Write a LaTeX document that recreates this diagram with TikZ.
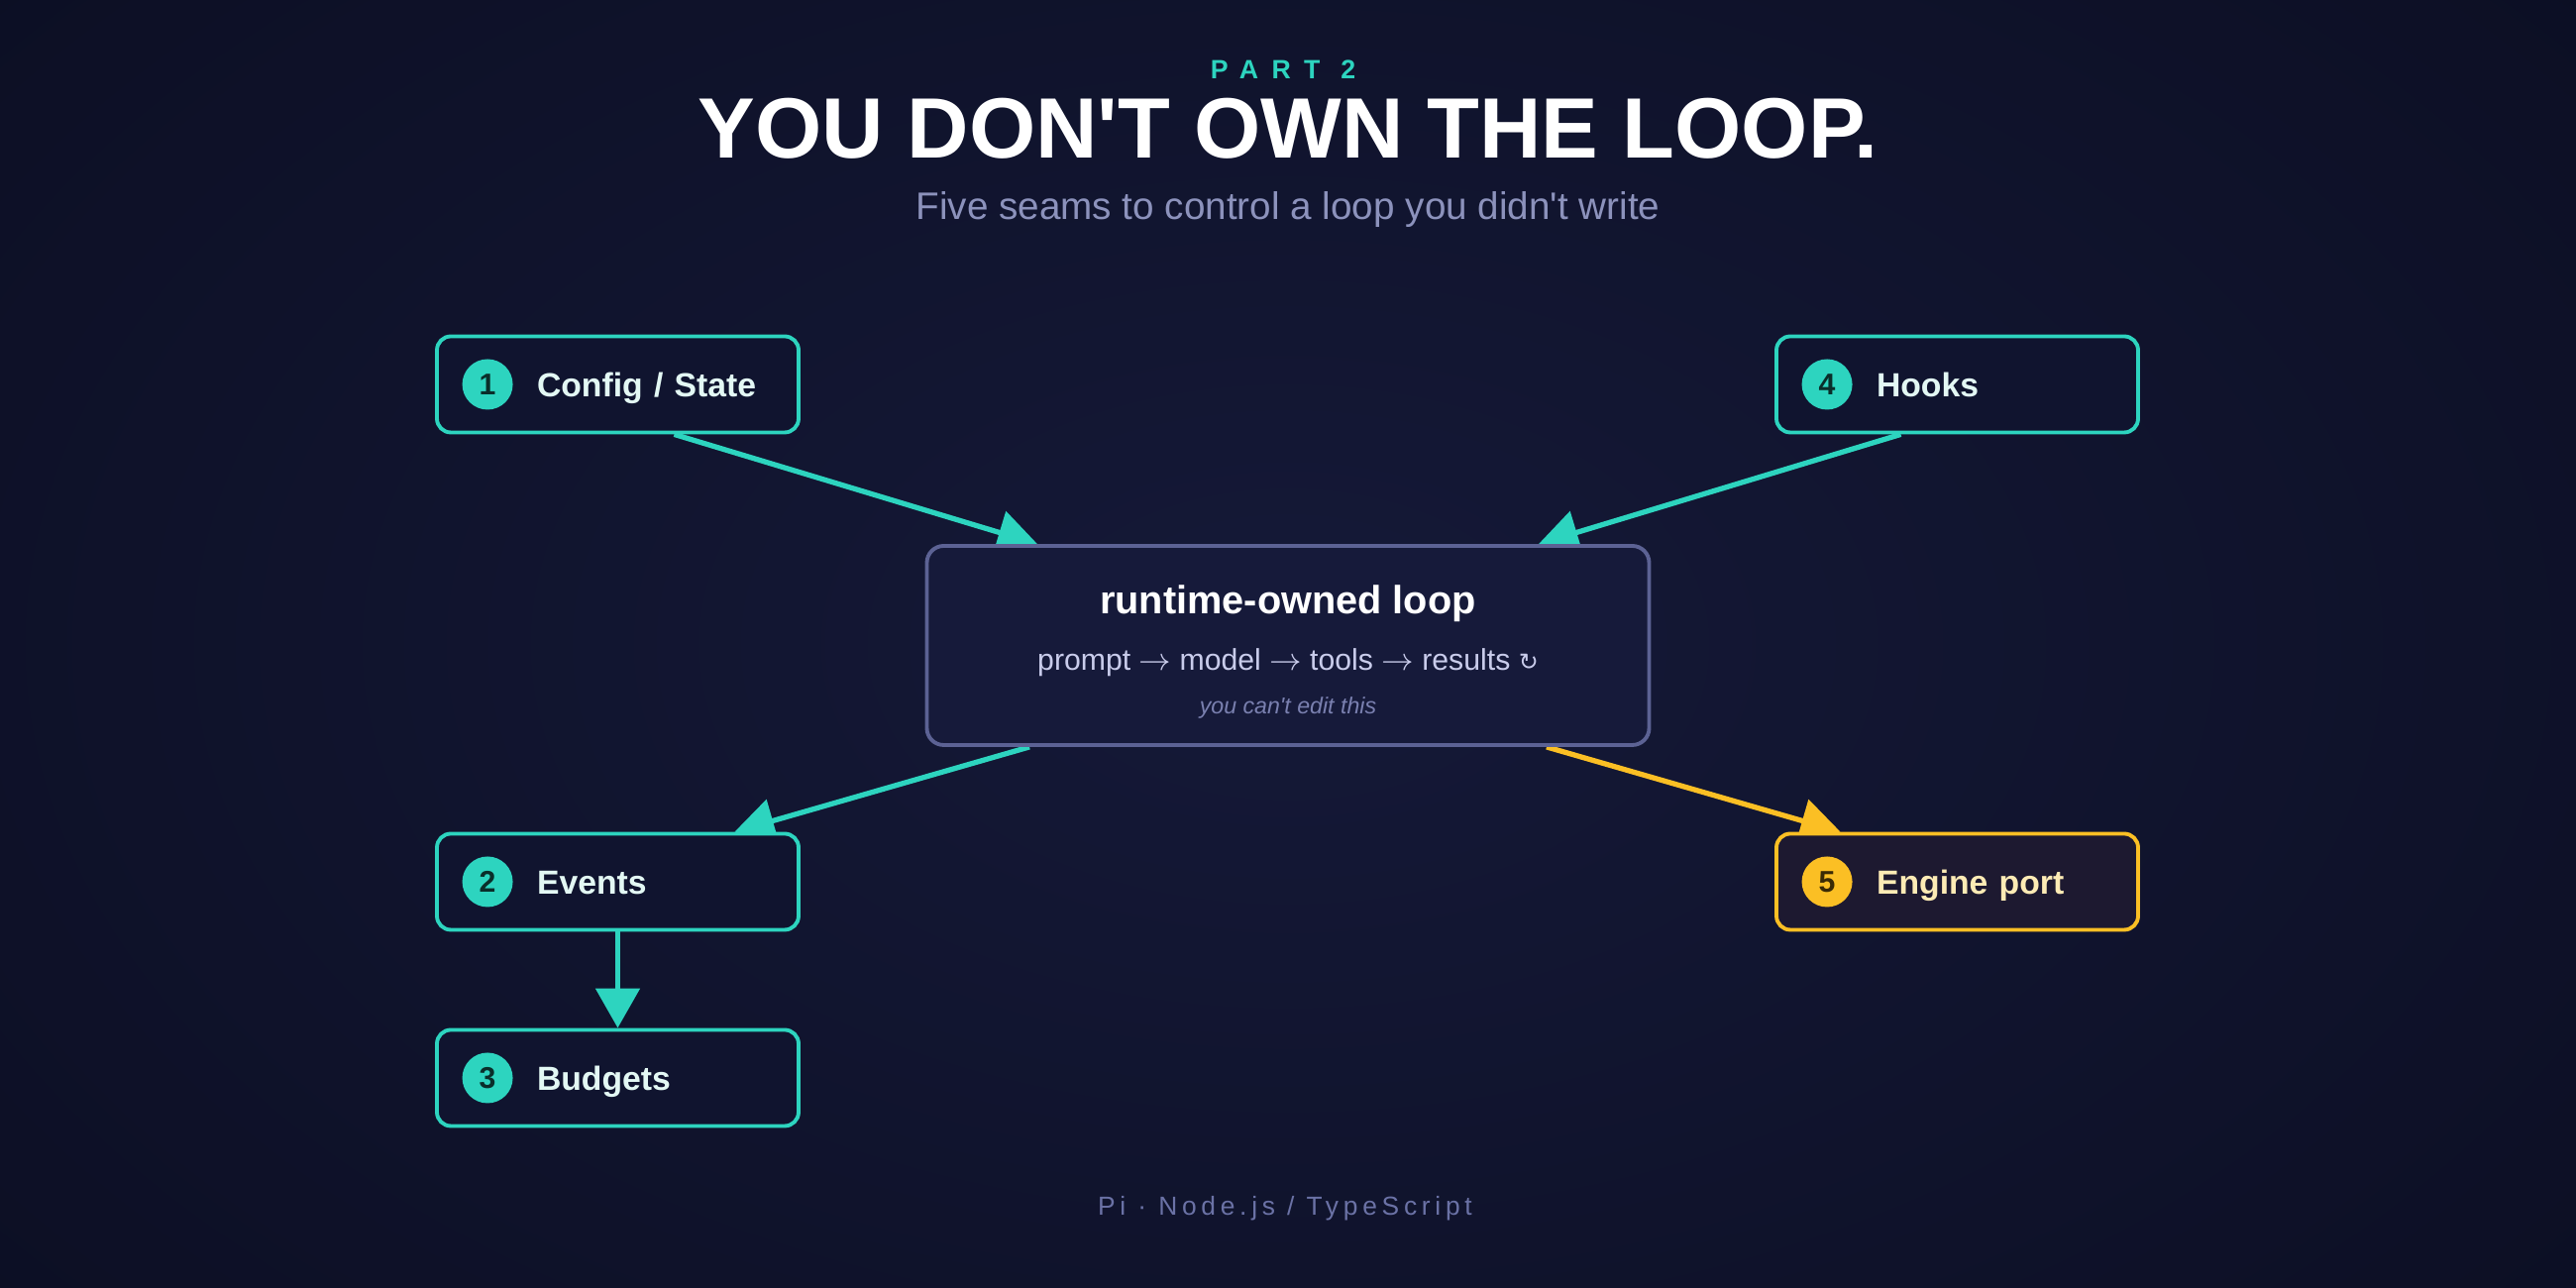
\documentclass[tikz,border=0pt]{standalone}
\usepackage{fontspec}
\setmainfont{Liberation Sans}
\newfontfamily\symfont{DejaVu Sans}
\usetikzlibrary{arrows.meta,positioning,calc,backgrounds}
\definecolor{night}{HTML}{0C0F24}
\definecolor{dusk}{HTML}{151938}
\definecolor{teal}{HTML}{2DD4BF}
\definecolor{amber}{HTML}{FBBF24}
\definecolor{seamfill}{HTML}{10142F}
\definecolor{emberfill}{HTML}{1D1930}
\definecolor{loopfill}{HTML}{161A3A}
\definecolor{slate}{HTML}{5C6294}
\definecolor{mint}{HTML}{E3F8F4}
\definecolor{cream}{HTML}{FDEBB5}
\definecolor{deepteal}{HTML}{0A2E2A}
\definecolor{deepamber}{HTML}{3A2A05}
\definecolor{lavender}{HTML}{C9CCEB}
\definecolor{haze}{HTML}{8C92BC}
\definecolor{mutedviolet}{HTML}{7A80B0}
\definecolor{footgrey}{HTML}{6B72A6}
\pgfdeclarelayer{edges}
\pgfsetlayers{background,edges,main}
\newcommand{\flowarrow}{$\rightarrow$}
\tikzset{
  seambox/.style={rectangle,rounded corners=0.14cm,draw=teal,line width=1.1pt,fill=seamfill,text width=3.65cm,inner xsep=0pt,minimum height=0.97cm,align=left,text height=1.38ex,text depth=0pt,text=mint,font=\bfseries\fontsize{9.6}{11}\selectfont},
  enginebox/.style={seambox,draw=amber,fill=emberfill,text=cream},
  badge/.style={circle,fill=teal,minimum size=0.51cm,inner sep=0pt,text=deepteal,font=\bfseries\fontsize{8.6}{10}\selectfont},
  amberbadge/.style={badge,fill=amber,text=deepamber},
  loopbox/.style={rectangle,rounded corners=0.17cm,draw=slate,line width=1.1pt,fill=loopfill,minimum width=7.29cm,minimum height=2.01cm},
  flow/.style={-{Triangle[length=0.40cm,width=0.44cm]},line width=1.5pt,draw=teal},
  amberflow/.style={flow,draw=amber}
}
\begin{document}
\begin{tikzpicture}
  \useasboundingbox (0,0) rectangle (26,13);
  \begin{pgfonlayer}{background}
    \shade[inner color=dusk,outer color=night] (-4,-4) rectangle (30,17);
  \end{pgfonlayer}

  % heading
  \node[anchor=base,text=teal,font=\bfseries\fontsize{7.6}{9}\selectfont\addfontfeature{LetterSpace=50}] (part) at (12.95,12.20) {PART 2};
  \node[anchor=base,text=white,font=\bfseries\fontsize{24.6}{28}\selectfont] (title) at (13,11.40) {YOU DON\textquotesingle T OWN THE LOOP.};
  \node[anchor=base,text=haze,font=\fontsize{11}{13}\selectfont] (subtitle) at (13,10.78) {Five seams to control a loop you didn\textquotesingle t write};

  % the loop
  \node[loopbox] (loop) at (13,6.485) {};
  \node[anchor=base,text=white,font=\bfseries\fontsize{11.3}{13}\selectfont] (looptitle) at ($(loop.north)+(0,-0.70)$) {runtime-owned loop};
  \node[anchor=base,text=lavender,font=\fontsize{8.6}{10}\selectfont] (loopflow) at ($(loop.north)+(0,-1.27)$) {prompt \flowarrow{} model \flowarrow{} tools \flowarrow{} results {\symfont\fontsize{6.8}{8}\selectfont ↻}};
  \node[anchor=base,text=mutedviolet,font=\itshape\fontsize{6.6}{8}\selectfont] (loopnote) at ($(loop.north)+(0,-1.71)$) {you can\textquotesingle t edit this};

  % seams
  \node[seambox] (cfg) at (6.235,9.12) {\hspace*{1.01cm}Config / State};
  \node[seambox] (hooks) at (19.755,9.12) {\hspace*{1.01cm}Hooks};
  \node[seambox] (events) at (6.235,4.10) {\hspace*{1.01cm}Events};
  \node[seambox] (budgets) at (6.235,2.12) {\hspace*{1.01cm}Budgets};
  \node[enginebox] (engine) at (19.755,4.10) {\hspace*{1.01cm}Engine port};

  \node[badge] (cfgnum) at ($(cfg.west)+(0.53,0)$) {1};
  \node[badge] (eventsnum) at ($(events.west)+(0.53,0)$) {2};
  \node[badge] (budgetsnum) at ($(budgets.west)+(0.53,0)$) {3};
  \node[badge] (hooksnum) at ($(hooks.west)+(0.53,0)$) {4};
  \node[amberbadge] (enginenum) at ($(engine.west)+(0.53,0)$) {5};

  \node[anchor=base,text=footgrey,font=\fontsize{7.5}{9}\selectfont\addfontfeature{LetterSpace=18}] (footer) at (12.97,0.73) {Pi · Node.js / TypeScript};

  \begin{pgfonlayer}{edges}
    \draw[flow] ($(cfg.south)+(0.57,0)$) -- ($(loop.north)+(-2.53,0)$);
    \draw[flow] ($(hooks.south)+(-0.57,0)$) -- ($(loop.north)+(2.53,0)$);
    \draw[flow] ($(loop.south)+(-2.61,0)$) -- ($(events.north)+(1.18,0)$);
    \draw[amberflow] ($(loop.south)+(2.61,0)$) -- ($(engine.north)+(-1.18,0)$);
    \draw[flow] (events.south) -- (budgets.north);
  \end{pgfonlayer}
\end{tikzpicture}
\end{document}
